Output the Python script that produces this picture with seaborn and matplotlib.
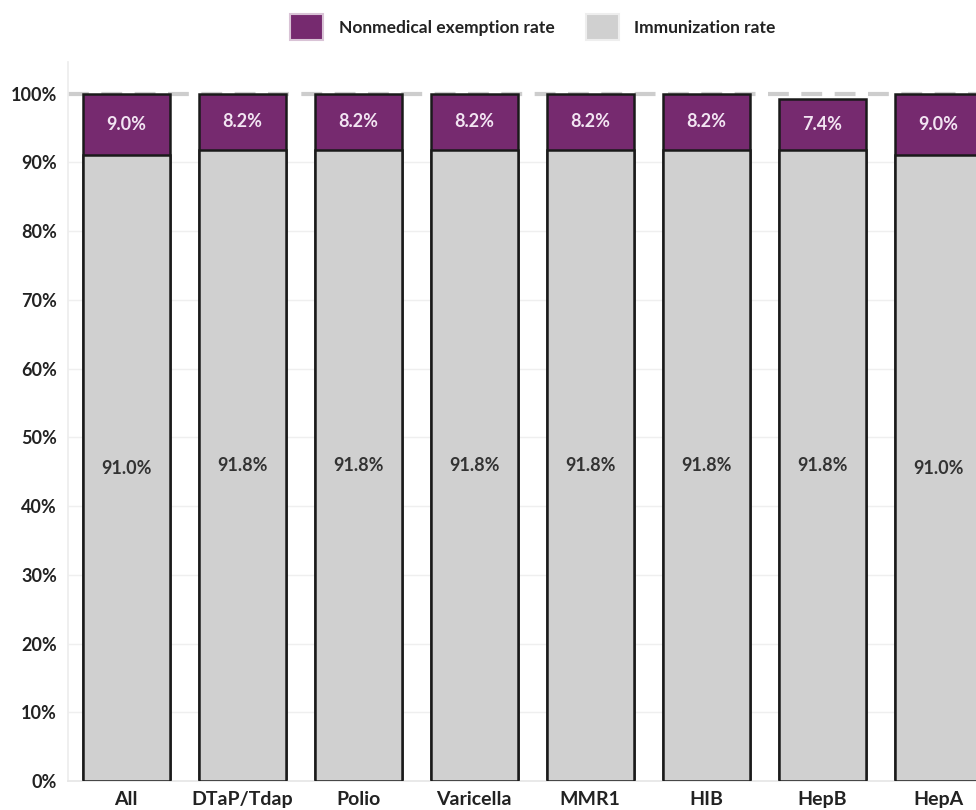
import matplotlib
matplotlib.use("Agg")
import matplotlib.pyplot as plt
import matplotlib.patches as mpatches
import seaborn as sns
import pandas as pd
import numpy as np

categories = ["All", "DTaP/Tdap", "Polio", "Varicella", "MMR1", "HIB", "HepB", "HepA"]
immunization = [91.0, 91.8, 91.8, 91.8, 91.8, 91.8, 91.8, 91.0]
exemption = [9.0, 8.2, 8.2, 8.2, 8.2, 8.2, 7.4, 9.0]
yticks = [0, 10, 20, 30, 40, 50, 60, 70, 80, 90, 100]

PURPLE = "#762A6F"
GREY = "#D0D0D0"

sns.set_theme(style="white")
plt.rcParams["font.family"] = ["Lato", "DejaVu Sans"]

df = pd.DataFrame({"cat": categories, "imm": immunization, "exm": exemption})
df["total"] = df["imm"] + df["exm"]

fig = plt.figure(figsize=(9.76, 8.10), dpi=100)
W, H = 976, 810
left, right, top, bottom = 68, 996, 62, 781
ax = fig.add_axes([left / W, 1 - bottom / H, (right - left) / W, (bottom - top) / H])

ax.axhline(100, color="#CDCDCD", lw=3, ls=(0, (5, 3)), zorder=0.5)
for t in yticks[1:-1]:
    ax.axhline(t, color="#EFEFEF", lw=1, zorder=0.3)

sns.barplot(data=df, x="cat", y="total", color=PURPLE, saturation=1, width=0.75,
            edgecolor="#1a1a1a", linewidth=1.8, ax=ax, zorder=2)
sns.barplot(data=df, x="cat", y="imm", color=GREY, saturation=1, width=0.75,
            edgecolor="#1a1a1a", linewidth=1.8, ax=ax, zorder=3)

for i, (im, ex) in enumerate(zip(immunization, exemption)):
    ax.text(i, im + ex / 2, f"{ex:.1f}%", ha="center", va="center", color="#F2E4F2",
            fontsize=13, fontweight="bold", zorder=5)
    ax.text(i, im / 2, f"{im:.1f}%", ha="center", va="center", color="#333333",
            fontsize=13, fontweight="bold", zorder=5)

ax.set_xlim(-0.5, len(categories) - 0.5)
ax.set_ylim(0, 104.6)
ax.set_yticks(yticks)
ax.set_yticklabels([f"{t}%" for t in yticks], fontsize=13, fontweight="bold", color="#222222")
ax.set_xticks(range(len(categories)))
ax.set_xticklabels(categories, fontsize=14, fontweight="bold", color="#222222")
ax.set_xlabel("")
ax.set_ylabel("")
ax.tick_params(axis="y", length=0, pad=8)
ax.tick_params(axis="x", length=0, pad=7)
ax.set_xticks(np.arange(-0.5, len(categories), 1), minor=True)
ax.tick_params(axis="x", which="minor", length=4, color="#E6E6E6", width=1)
for s in ["top", "right"]:
    ax.spines[s].set_visible(False)
ax.spines["left"].set_color("#EDEDED")
ax.spines["bottom"].set_color("#E6E6E6")

handles = [mpatches.Patch(facecolor=PURPLE, edgecolor="#D9C3D6", linewidth=1.5, label="Nonmedical exemption rate"),
           mpatches.Patch(facecolor=GREY, edgecolor="#EEEEEE", linewidth=1.5, label="Immunization rate")]
leg = fig.legend(handles=handles, loc="center", bbox_to_anchor=(533 / W, 1 - 27 / H), ncol=2,
                 frameon=False, handlelength=1.9, handleheight=1.9, columnspacing=1.8,
                 handletextpad=0.9, prop={"weight": "bold", "size": 12.5})
for t in leg.get_texts():
    t.set_color("#222222")

fig.savefig("out.png", dpi=100)
